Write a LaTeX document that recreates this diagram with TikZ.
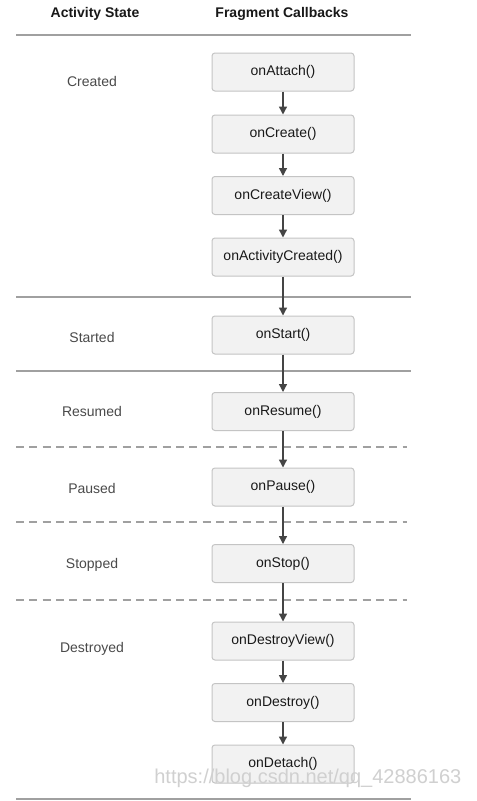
\documentclass[tikz,border=0pt]{standalone}
\usepackage{fontspec}
\setmainfont{Liberation Sans}
\usetikzlibrary{arrows.meta}
\definecolor{boxfill}{HTML}{F2F2F2}
\definecolor{boxline}{HTML}{C4C4C4}
\definecolor{sepline}{HTML}{A0A0A0}
\definecolor{arrowc}{HTML}{454545}
\definecolor{labelc}{HTML}{4A4A4A}
\definecolor{wmark}{HTML}{D0D0D0}
\tikzset{
  cbbox/.style={draw=boxline, fill=boxfill, rounded corners=2.2pt, line width=0.75pt,
    minimum width=106.5pt, minimum height=28.5pt, inner sep=0pt,
    font=\fontsize{10.5pt}{12pt}\selectfont, text=black!90},
  statelbl/.style={font=\fontsize{10.5pt}{12pt}\selectfont, text=labelc},
  headlbl/.style={font=\fontsize{10.5pt}{12pt}\selectfont\bfseries, text=black!90},
  flow/.style={draw=arrowc, line width=1pt, -{Triangle[length=6pt,width=6pt]}},
  solidsep/.style={draw=sepline, line width=0.8pt},
  dashsep/.style={draw=sepline, line width=0.8pt, dash pattern=on 6pt off 4pt},
}
\begin{document}
\begin{tikzpicture}[x=0.75pt,y=-0.75pt]
\useasboundingbox (0,0) rectangle (476,801);
\fill[white] (0,0) rectangle (476,801);
% headers
\node[headlbl] (hstate) at (95,14) {Activity State};
\node[headlbl] (hcb) at (282,14) {Fragment Callbacks};
% separators
\coordinate (l0a) at (16,35);  \coordinate (l0b) at (411,35);
\coordinate (l1a) at (16,297); \coordinate (l1b) at (411,297);
\coordinate (l2a) at (16,371); \coordinate (l2b) at (411,371);
\coordinate (l3a) at (16,447); \coordinate (l3b) at (407,447);
\coordinate (l4a) at (16,522); \coordinate (l4b) at (407,522);
\coordinate (l5a) at (16,600); \coordinate (l5b) at (407,600);
\coordinate (l6a) at (16,799); \coordinate (l6b) at (411,799);
\draw[solidsep] (l0a) -- (l0b);
\draw[solidsep] (l1a) -- (l1b);
\draw[solidsep] (l2a) -- (l2b);
\draw[dashsep] (l3a) -- (l3b);
\draw[dashsep] (l4a) -- (l4b);
\draw[dashsep] (l5a) -- (l5b);
\draw[solidsep, line width=1.5pt] (l6a) -- (l6b);
% state labels
\node[statelbl] (sCreated) at (92,81) {Created};
\node[statelbl] (sStarted) at (92,337) {Started};
\node[statelbl] (sResumed) at (92,411) {Resumed};
\node[statelbl] (sPaused) at (92,488) {Paused};
\node[statelbl] (sStopped) at (92,565) {Stopped};
\node[statelbl] (sDestroyed) at (92,649) {Destroyed};
% callback boxes
\node[cbbox] (attach) at (283,72) {onAttach()};
\node[cbbox] (create) at (283,134) {onCreate()};
\node[cbbox] (createview) at (283,195.5) {onCreateView()};
\node[cbbox] (actcreated) at (283,257) {onActivityCreated()};
\node[cbbox] (start) at (283,335) {onStart()};
\node[cbbox] (resume) at (283,411.5) {onResume()};
\node[cbbox] (pause) at (283,487) {onPause()};
\node[cbbox] (stop) at (283,563.5) {onStop()};
\node[cbbox] (destroyview) at (283,641) {onDestroyView()};
\node[cbbox] (destroy) at (283,702.5) {onDestroy()};
\node[cbbox] (detach) at (283,764) {onDetach()};
% arrows
\draw[flow] (attach) -- (create);
\draw[flow] (create) -- (createview);
\draw[flow] (createview) -- (actcreated);
\draw[flow] (actcreated) -- (start);
\draw[flow] (start) -- (resume);
\draw[flow] (resume) -- (pause);
\draw[flow] (pause) -- (stop);
\draw[flow] (stop) -- (destroyview);
\draw[flow] (destroyview) -- (destroy);
\draw[flow] (destroy) -- (detach);
% watermark (overlays the last box, as in the reference)
\node[font=\fontsize{15pt}{18pt}\selectfont, text=wmark, anchor=east] (wm) at (466,778) {https://blog.csdn.net/qq\_42886163};
\end{tikzpicture}
\end{document}
